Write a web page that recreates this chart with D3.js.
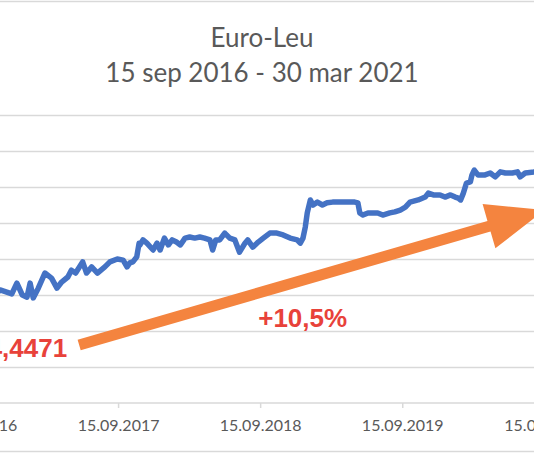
<!DOCTYPE html>
<html>
<head>
<meta charset="utf-8">
<script src="https://cdn.jsdelivr.net/npm/d3@7"></script>
<style>
  body { margin: 0; background: #fff; }
  svg { display: block; }
</style>
</head>
<body>
<div id="chart"></div>
<script>
// EUR/RON series (dd.mm.yyyy -> ISO)
const dates = [
  '2016-09-15', '2016-10-01', '2016-10-20', '2016-11-01', '2016-11-16', '2016-12-03',
  '2016-12-16', '2016-12-29', '2017-01-12', '2017-01-24', '2017-02-01', '2017-02-09',
  '2017-02-22', '2017-03-11', '2017-03-28', '2017-04-11', '2017-04-23', '2017-05-09',
  '2017-05-18', '2017-05-29', '2017-06-16', '2017-06-26', '2017-07-09', '2017-07-24',
  '2017-08-12', '2017-08-25', '2017-09-13', '2017-09-28', '2017-10-08', '2017-10-15',
  '2017-10-23', '2017-11-02', '2017-11-08', '2017-11-10', '2017-11-18', '2017-11-28',
  '2017-12-14', '2017-12-24', '2018-01-01', '2018-01-12', '2018-01-22', '2018-02-01',
  '2018-02-12', '2018-02-22', '2018-03-06', '2018-03-18', '2018-03-31', '2018-04-13',
  '2018-04-25', '2018-05-09', '2018-05-16', '2018-05-24', '2018-06-03', '2018-06-16',
  '2018-06-29', '2018-07-12', '2018-07-24', '2018-08-07', '2018-08-14', '2018-08-27',
  '2018-09-10', '2018-09-23', '2018-10-10', '2018-10-28', '2018-11-13', '2018-12-01',
  '2018-12-19', '2018-12-27', '2019-01-03', '2019-01-09', '2019-01-14', '2019-01-22',
  '2019-01-29', '2019-02-09', '2019-02-22', '2019-03-06', '2019-03-20', '2019-04-08',
  '2019-05-03', '2019-05-16', '2019-05-24', '2019-05-29', '2019-06-06', '2019-06-19',
  '2019-06-29', '2019-07-14', '2019-07-27', '2019-08-14', '2019-08-27', '2019-09-10',
  '2019-09-23', '2019-10-05', '2019-10-26', '2019-11-13', '2019-11-21', '2019-12-04',
  '2019-12-21', '2020-01-03', '2020-01-17', '2020-01-29', '2020-02-06', '2020-02-12',
  '2020-02-19', '2020-02-27', '2020-03-08', '2020-03-12', '2020-03-18', '2020-03-28',
  '2020-04-13', '2020-04-28', '2020-05-11', '2020-05-24', '2020-06-06', '2020-06-24',
  '2020-07-07', '2020-07-14', '2020-07-27', '2020-08-20', '2020-09-15', '2020-10-15',
  '2020-11-15', '2020-12-15', '2021-01-15', '2021-02-15', '2021-03-30'
];
const rates = [
  4.4471, 4.452, 4.490, 4.500, 4.514, 4.508,
  4.503, 4.533, 4.500, 4.494, 4.533, 4.492,
  4.519, 4.561, 4.547, 4.519, 4.536, 4.550,
  4.569, 4.561, 4.592, 4.561, 4.578, 4.561,
  4.578, 4.592, 4.600, 4.597, 4.578, 4.589,
  4.592, 4.606, 4.644, 4.639, 4.653, 4.644,
  4.625, 4.644, 4.625, 4.658, 4.639, 4.653,
  4.647, 4.639, 4.658, 4.661, 4.658, 4.661,
  4.658, 4.653, 4.625, 4.653, 4.653, 4.672,
  4.658, 4.653, 4.619, 4.644, 4.653, 4.633,
  4.647, 4.658, 4.672, 4.672, 4.667, 4.658,
  4.653, 4.644, 4.658, 4.689, 4.728, 4.764,
  4.750, 4.758, 4.750, 4.756, 4.758, 4.758,
  4.758, 4.758, 4.756, 4.728, 4.722, 4.728,
  4.728, 4.728, 4.722, 4.728, 4.731, 4.736,
  4.744, 4.758, 4.764, 4.772, 4.783, 4.778,
  4.778, 4.772, 4.778, 4.772, 4.769, 4.764,
  4.783, 4.811, 4.814, 4.833, 4.847, 4.833,
  4.833, 4.839, 4.828, 4.842, 4.839, 4.839,
  4.842, 4.828, 4.839, 4.842, 4.860, 4.870,
  4.872, 4.870, 4.875, 4.885, 4.914
];

const xTickDates = ['2016-09-15', '2017-09-15', '2018-09-15', '2019-09-15', '2020-09-15'];
const xTickLabels = ['15.09.2016', '15.09.2017', '15.09.2018', '15.09.2019', '15.09.2020'];
const yTicks = [4.2, 4.3, 4.4, 4.5, 4.6, 4.7, 4.8, 4.9, 5.0];

const titleLines = ['Euro-Leu', '15 sep 2016 - 30 mar 2021'];

// trend annotation: arrow from / to (date, value), and its two labels
const arrowFrom = ['2017-06-07', 4.361];
const arrowTo = ['2020-09-15', 4.736];
const startLabel = '4,4471';
const changeLabel = '+10,5%';

const width = 534;
const height = 454;
const parse = d3.timeParse('%Y-%m-%d');

// the picture is a crop of a wider chart: plot area runs past both sides
const plot = { left: -24, right: 621, top: 115, bottom: 403 };

const x = d3.scaleTime()
  .domain([parse('2016-09-15'), parse('2021-03-30')])
  .range([plot.left, plot.right]);
const y = d3.scaleLinear()
  .domain([4.2, 5.0])
  .range([plot.bottom, plot.top]);

const svg = d3.select('#chart').append('svg')
  .attr('width', width)
  .attr('height', height);

// chart outline (sides fall outside the crop)
svg.append('rect')
  .attr('x', -20.5).attr('y', 1.5)
  .attr('width', width + 40).attr('height', 450)
  .attr('fill', 'none')
  .attr('stroke', '#d9d9d9')
  .attr('stroke-width', 1.5);

// title
svg.append('g')
  .selectAll('text')
  .data(titleLines)
  .enter().append('text')
    .attr('x', 262)
    .attr('y', (d, i) => 47 + i * 35)
    .attr('text-anchor', 'middle')
    .attr('font-family', 'Lato, "Open Sans", sans-serif')
    .attr('font-size', 26)
    .attr('fill', '#595959')
    .text((d) => d);

// gridlines
const grid = d3.axisLeft(y)
  .tickValues(yTicks.slice(1))
  .tickSize(-(plot.right - plot.left + 60))
  .tickFormat('');
svg.append('g')
  .attr('transform', `translate(${plot.left - 30},0)`)
  .call(grid)
  .call((g) => g.select('.domain').remove())
  .call((g) => g.selectAll('line')
    .attr('stroke', '#d9d9d9')
    .attr('stroke-width', 1.5));

// x axis
const xAxis = d3.axisBottom(x)
  .tickValues(xTickDates.map(parse))
  .tickSize(5)
  .tickPadding(12)
  .tickFormat((d, i) => xTickLabels[i]);
svg.append('g')
  .attr('transform', `translate(0,${y(4.2)})`)
  .call(xAxis)
  .call((g) => g.select('.domain')
    .attr('d', `M${plot.left - 60},0H${plot.right + 60}`)
    .attr('stroke', '#d9d9d9')
    .attr('stroke-width', 1.5))
  .call((g) => g.selectAll('.tick line')
    .attr('stroke', '#d9d9d9')
    .attr('stroke-width', 1.5))
  .call((g) => g.selectAll('.tick text')
    .attr('font-family', 'Lato, "Open Sans", sans-serif')
    .attr('font-size', 16)
    .attr('fill', '#595959'));

// series
const series = dates.map((d, i) => ({ date: parse(d), value: rates[i] }));
const line = d3.line()
  .x((d) => x(d.date))
  .y((d) => y(d.value));
svg.append('path')
  .datum(series)
  .attr('d', line)
  .attr('fill', 'none')
  .attr('stroke', '#4472c4')
  .attr('stroke-width', 5.5)
  .attr('stroke-linejoin', 'round')
  .attr('stroke-linecap', 'round');

// trend arrow
const p0 = [x(parse(arrowFrom[0])), y(arrowFrom[1])];
const p1 = [x(parse(arrowTo[0])), y(arrowTo[1])];
const len = Math.hypot(p1[0] - p0[0], p1[1] - p0[1]);
const ux = (p1[0] - p0[0]) / len;
const uy = (p1[1] - p0[1]) / len;
const nx = -uy;
const ny = ux;
const shaftW = 11;
const headW = 46;
const headL = 58;
const bx = p1[0] - ux * headL;
const by = p1[1] - uy * headL;
const arrowPts = [
  [p0[0] + nx * shaftW / 2, p0[1] + ny * shaftW / 2],
  [bx + nx * shaftW / 2, by + ny * shaftW / 2],
  [bx + nx * headW / 2, by + ny * headW / 2],
  p1,
  [bx - nx * headW / 2, by - ny * headW / 2],
  [bx - nx * shaftW / 2, by - ny * shaftW / 2],
  [p0[0] - nx * shaftW / 2, p0[1] - ny * shaftW / 2],
];
svg.append('polygon')
  .attr('points', arrowPts.map((p) => p.join(',')).join(' '))
  .attr('fill', '#f4843f');

// annotation labels
const labelFont = '"Liberation Sans", Arial, sans-serif';
svg.append('text')
  .attr('x', p0[0] - 12)
  .attr('y', p0[1] + 12)
  .attr('text-anchor', 'end')
  .attr('font-family', labelFont)
  .attr('font-weight', 'bold')
  .attr('font-size', 26)
  .attr('fill', '#e8423a')
  .text(startLabel);

svg.append('text')
  .attr('x', x(parse('2018-09-10')))
  .attr('y', y(4.411))
  .attr('font-family', labelFont)
  .attr('font-weight', 'bold')
  .attr('font-size', 26)
  .attr('fill', '#e8423a')
  .text(changeLabel);
</script>
</body>
</html>
